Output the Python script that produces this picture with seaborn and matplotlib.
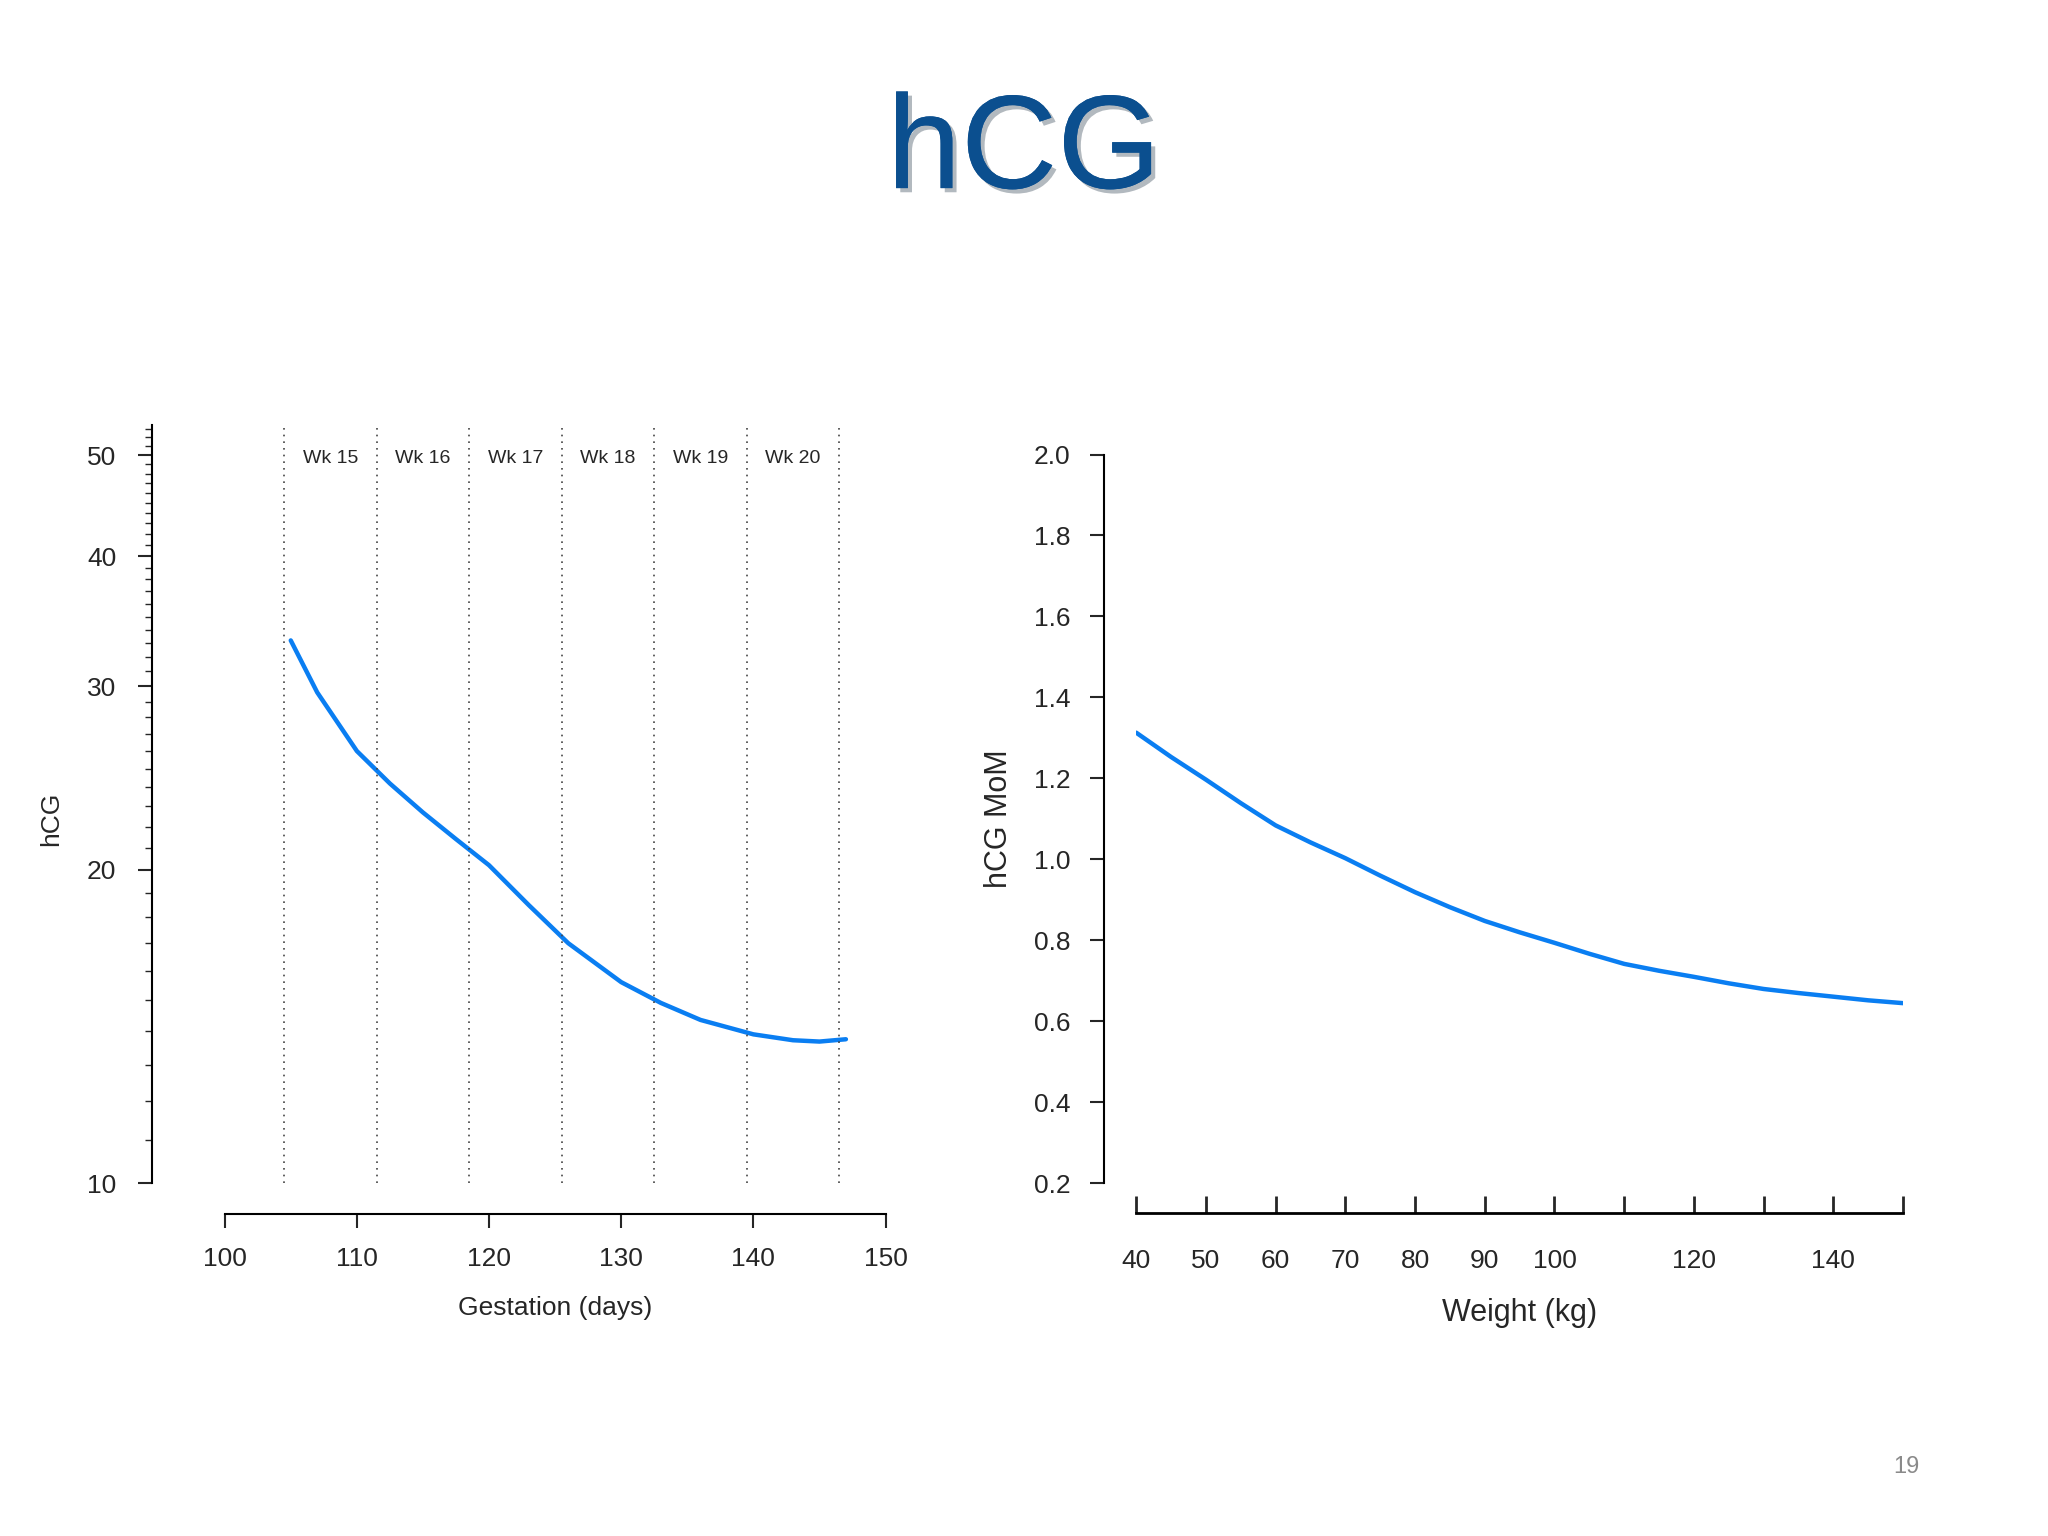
import numpy as np
import pandas as pd
import matplotlib
matplotlib.use("Agg")
import matplotlib.pyplot as plt
import matplotlib.patheffects as pe
from matplotlib.ticker import FixedLocator, NullFormatter
import seaborn as sns

# left panel: hCG by gestation
gest_days = [105, 107, 110, 112.5, 115, 117.5, 120, 123, 126, 130, 133, 136, 140, 143, 145, 147]
hcg_values = [33.2, 29.6, 26.0, 24.2, 22.7, 21.4, 20.2, 18.5, 17.0, 15.6, 14.9, 14.35, 13.9, 13.72, 13.68, 13.75]
week_bounds = [104.5, 111.5, 118.5, 125.5, 132.5, 139.5, 146.5]
week_labels = ["Wk 15", "Wk 16", "Wk 17", "Wk 18", "Wk 19", "Wk 20"]

# right panel: MoM by weight
weight_kg = [40, 45, 50, 55, 60, 65, 70, 75, 80, 85, 90, 95, 100, 105, 110, 115,
             120, 125, 130, 135, 140, 145, 150]
mom_values = [1.313, 1.253, 1.197, 1.139, 1.084, 1.042, 1.003, 0.960, 0.919, 0.882,
              0.848, 0.820, 0.794, 0.767, 0.742, 0.725, 0.710, 0.694, 0.680, 0.670,
              0.661, 0.652, 0.645]

sns.set_style("white")
plt.rcParams['font.family'] = ['Liberation Sans', 'DejaVu Sans']
line_col = "#0A7EF2"

fig = plt.figure(figsize=(20.48, 15.36), dpi=100)
fig.text(0.5, 0.90, "hCG", ha="center", va="center", fontsize=96, color="#0B4F8F",
         path_effects=[pe.withSimplePatchShadow(offset=(3, -3), alpha=0.3), pe.Normal()])
fig.text(0.931, 0.045, "19", ha="center", va="center", fontsize=17, color="#8a8a8a")

# left chart
ax1 = fig.add_axes([0.1097, 0.2296, 0.3227, 0.494])
df1 = pd.DataFrame({"day": gest_days, "hcg": hcg_values})
sns.lineplot(data=df1, x="day", y="hcg", ax=ax1, color=line_col, linewidth=3.2)
ax1.set_yscale("log")
ax1.set_xlim(100, 150)
ax1.set_ylim(10, 53.5)
ax1.yaxis.set_major_locator(FixedLocator([10, 20, 30, 40, 50]))
ax1.set_yticklabels(["10", "20", "30", "40", "50"])
ax1.yaxis.set_minor_locator(FixedLocator(list(range(11, 54))))
ax1.yaxis.set_minor_formatter(NullFormatter())
ax1.set_xticks(range(100, 151, 10))
for b in week_bounds:
    ax1.axvline(b, color="#444444", linestyle=(0, (1, 3)), linewidth=1.2)
for i, lab in enumerate(week_labels):
    ax1.text((week_bounds[i] + week_bounds[i + 1]) / 2, 49.6, lab, ha="center",
             va="center", fontsize=14)
ax1.set_xlabel("Gestation (days)", fontsize=19, labelpad=18)
ax1.set_ylabel("hCG", fontsize=19)
ax1.yaxis.set_label_coords(-0.245, 0.48)

# right chart
ax2 = fig.add_axes([0.5548, 0.2296, 0.3744, 0.4745])
df2 = pd.DataFrame({"w": weight_kg, "mom": mom_values})
sns.lineplot(data=df2, x="w", y="mom", ax=ax2, color=line_col, linewidth=3.2)
ax2.set_xlim(40, 150)
ax2.set_ylim(0.2, 2.0)
ax2.set_yticks(np.arange(0.2, 2.01, 0.2))
ax2.set_yticklabels([f"{v:.1f}" for v in np.arange(0.2, 2.01, 0.2)])
ax2.set_xticks(range(40, 151, 10))
ax2.set_xticklabels(["40", "50", "60", "70", "80", "90", "100", "", "120", "", "140", ""])
ax2.set_xlabel("Weight (kg)", fontsize=22, labelpad=18)
ax2.set_ylabel("hCG MoM", fontsize=22, labelpad=14)

for ax, lo, bo, bw in [(ax1, 52, 22, 1.5), (ax2, 23.5, 21, 2.0)]:
    for s in ["top", "right"]:
        ax.spines[s].set_visible(False)
    ax.spines["left"].set_position(("outward", lo))
    ax.spines["bottom"].set_position(("outward", bo))
    ax.spines["left"].set_color("black")
    ax.spines["bottom"].set_color("black")
    ax.spines["left"].set_linewidth(1.5)
    ax.spines["bottom"].set_linewidth(bw)
    ax.tick_params(axis="both", which="major", direction="out", length=10, width=1.5,
                   labelsize=19, left=True, bottom=True, pad=14)
    ax.tick_params(axis="y", which="minor", direction="out", length=5, width=1, left=True)
    ax.grid(False)
ax2.tick_params(axis="x", which="major", direction="in", length=12, width=2, pad=26)
ax1.tick_params(axis="y", pad=16)

fig.savefig("out.png", dpi=100, facecolor="white")
